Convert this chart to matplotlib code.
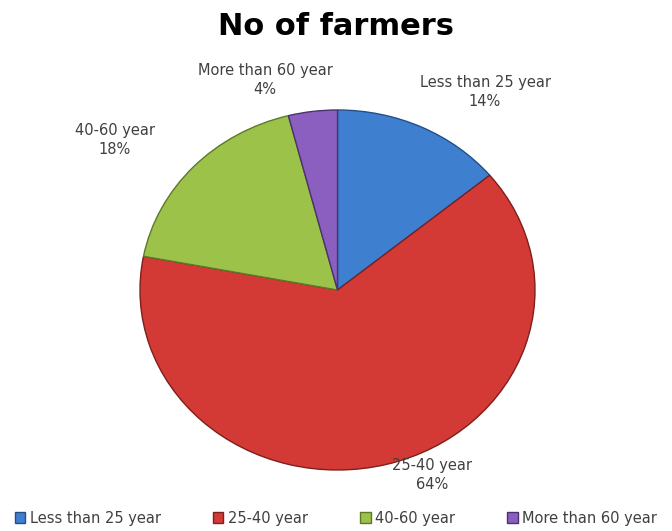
import matplotlib.pyplot as plt
from matplotlib.patches import Patch

categories = ['Less than 25 year', '25-40 year', '40-60 year', 'More than 60 year']
shares = [14, 64, 18, 4]
colors = ['#3f7fd0', '#d33a36', '#9cc24a', '#8a5fc0']
edges = ['#234f86', '#7d1f1d', '#5c7a28', '#4a3270']

fig = plt.figure(figsize=(6.72, 5.31), dpi=100)
fig.patch.set_facecolor('white')

# pie axes stretched a bit, like the original ellipse
ax = fig.add_axes([140 / 672, 61 / 531, 395 / 672, 360 / 531])
wedges, _ = ax.pie(shares, colors=colors, startangle=90, counterclock=False,
                   wedgeprops=dict(linewidth=1.0))
for w, ec in zip(wedges, edges):
    w.set_edgecolor(ec)
ax.set_aspect('auto')
ax.set_xlim(-1, 1)
ax.set_ylim(-1, 1)
ax.axis('off')

fig.suptitle('No of farmers', y=0.978, fontsize=22, fontweight='bold')

# data labels, placed roughly where Excel put them
label_pos = [(485, 92), (432, 475), (115, 140), (265, 80)]
for (px, py), cat, v in zip(label_pos, categories, shares):
    fig.text(px / 672, 1 - py / 531, f'{cat}\n{v}%', ha='center', va='center',
             fontsize=10.5, color='#404040', linespacing=1.3)

handles = [Patch(facecolor=c, edgecolor=e, label=cat) for c, e, cat in zip(colors, edges, categories)]
fig.legend(handles=handles, loc='center', bbox_to_anchor=(0.5, 1 - 518 / 531), ncol=4,
           frameon=False, fontsize=10.5, handlelength=0.7, handleheight=0.7,
           handletextpad=0.3, columnspacing=3.6, labelcolor='#404040')

fig.savefig('out.png', dpi=100)
